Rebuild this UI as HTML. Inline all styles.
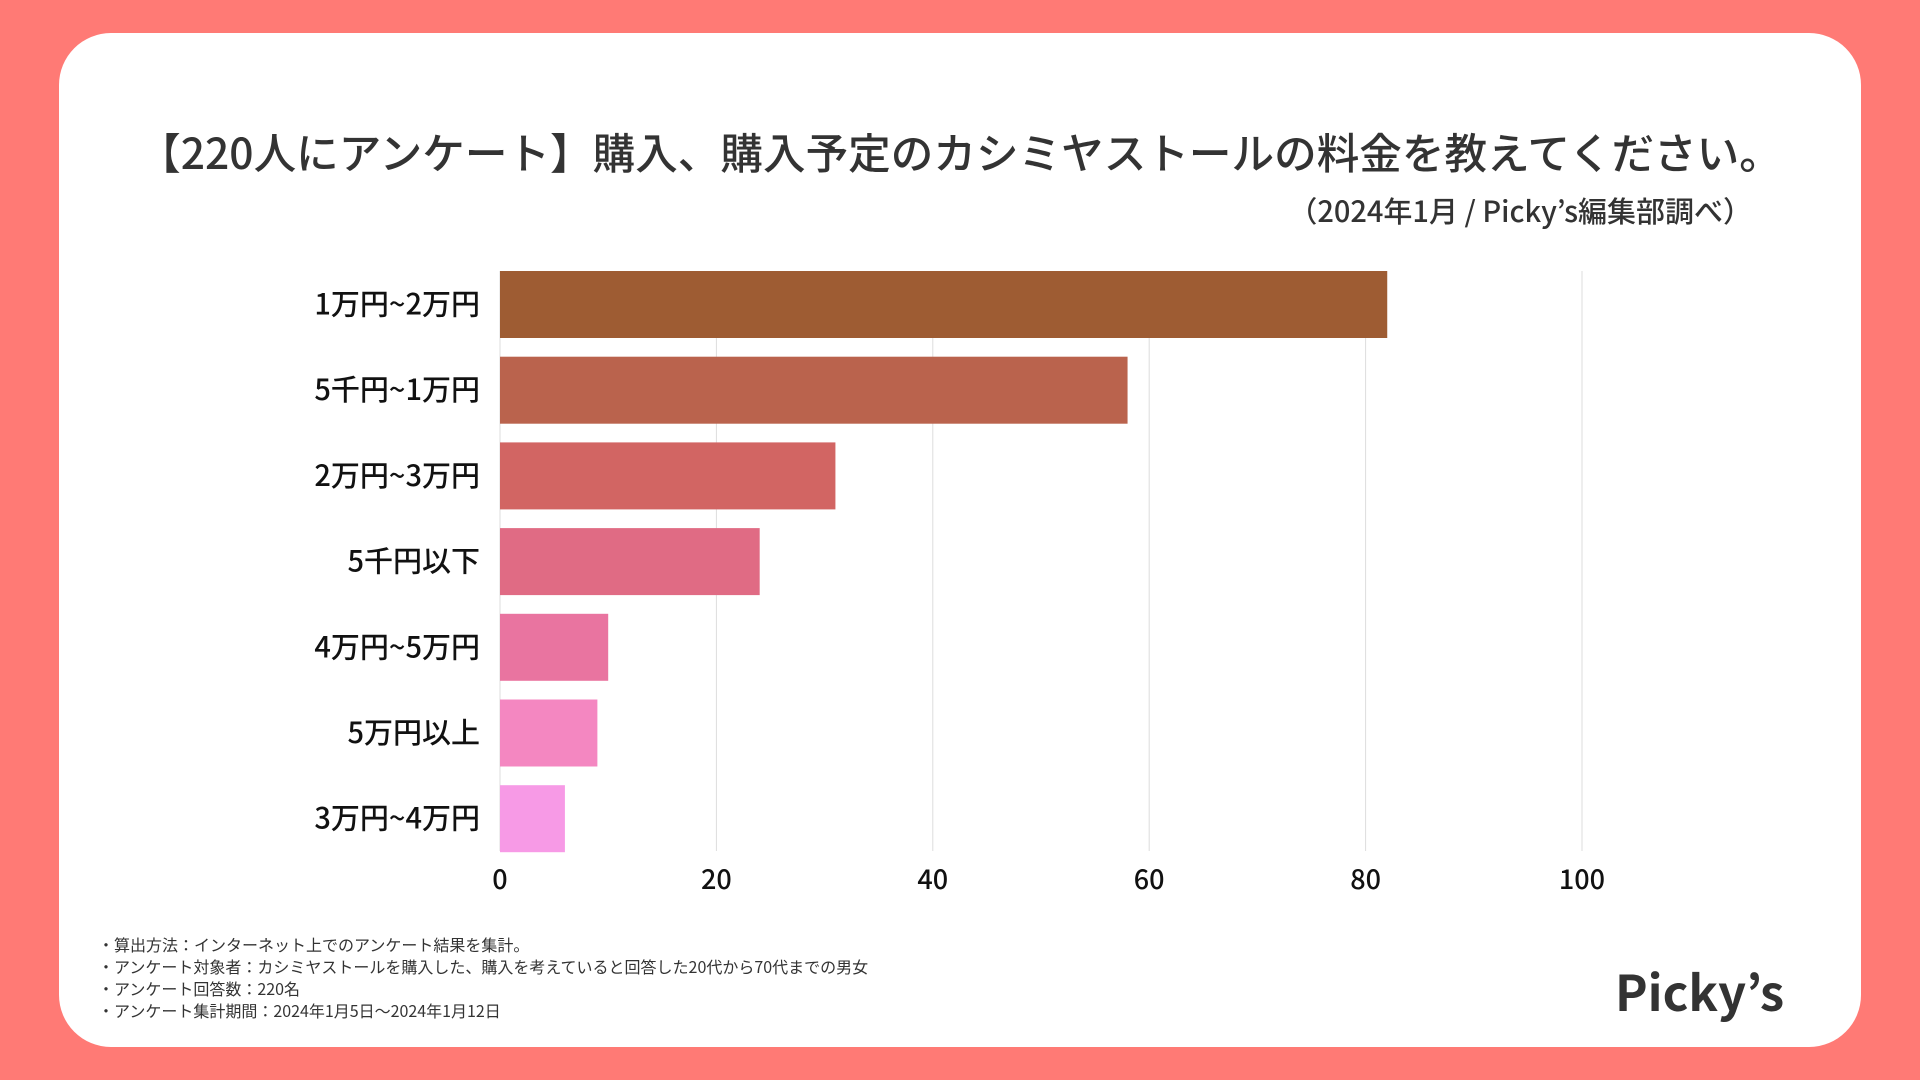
<!DOCTYPE html>
<html><head><meta charset="utf-8"><style>
body{margin:0;width:1920px;height:1080px;background:#FF7A75;position:relative;overflow:hidden;font-family:"Noto Sans CJK JP","Liberation Sans",sans-serif;}
#card{position:absolute;left:59px;top:33px;width:1802px;height:1014px;background:#fff;border-radius:52px;}
.t{position:absolute;color:#333;white-space:nowrap;}
</style></head><body>
<div id="card"></div>
<div class="t" style="left:0;width:1920px;text-align:center;top:122px;font-size:42.6px;line-height:60px;font-weight:500;">【220人にアンケート】購入、購入予定のカシミヤストールの料金を教えてください。</div>
<div class="t" style="right:168px;top:190px;font-size:29px;line-height:40px;font-weight:500;">（2024年1月 / Picky’s編集部調べ）</div>
<svg id="chart" width="1920" height="1080" style="position:absolute;left:0;top:0;font-family:'Noto Sans CJK JP','Liberation Sans',sans-serif"></svg>
<div class="t" style="left:98px;top:933px;font-size:16px;line-height:22px;color:#333;">・算出方法：インターネット上でのアンケート結果を集計。<br>・アンケート対象者：カシミヤストールを購入した、購入を考えていると回答した20代から70代までの男女<br>・アンケート回答数：220名<br>・アンケート集計期間：2024年1月5日〜2024年1月12日</div>
<div class="t" style="left:1615px;top:961px;font-size:49px;line-height:60px;font-weight:bold;color:#333;">Picky’s</div>
<script>
const categories=["1万円~2万円","5千円~1万円","2万円~3万円","5千円以下","4万円~5万円","5万円以上","3万円~4万円"];
const values=[82,58,31,24,10,9,6];
const colors=["#9E5C33","#BA634D","#D26563","#E06B84","#E974A0","#F487C1","#F79AE6"];
const ticks=[0,20,40,60,80,100];
const NS="http://www.w3.org/2000/svg";
const svg=document.getElementById('chart');
const x0=500,x1=1582,yTop=271,band=85.7,bh=67,yBot=851;
const xs=v=>x0+(x1-x0)*v/100;
function mk(t,a){const e=document.createElementNS(NS,t);for(const k in a)e.setAttribute(k,a[k]);svg.appendChild(e);return e;}
ticks.forEach(t=>{
 const l=mk('line',{x1:xs(t),x2:xs(t),y1:yTop,y2:yBot,stroke:'#ddd','stroke-width':1});
 
 
 const tx=mk('text',{x:xs(t),y:889,'text-anchor':'middle','font-size':27,fill:'#111','font-weight':'500'});
 tx.textContent=t;
 
 
});
categories.forEach((c,i)=>{
 const y=yTop+i*band;
 const r=mk('rect',{x:x0,y:y,width:xs(values[i])-x0,height:bh,fill:colors[i]});
 
 
 const tx=mk('text',{x:480,y:y+bh/2+10,'text-anchor':'end','font-size':29,fill:'#111','font-weight':'500'});
 tx.textContent=c;
 
 
});
</script>
</body></html>
